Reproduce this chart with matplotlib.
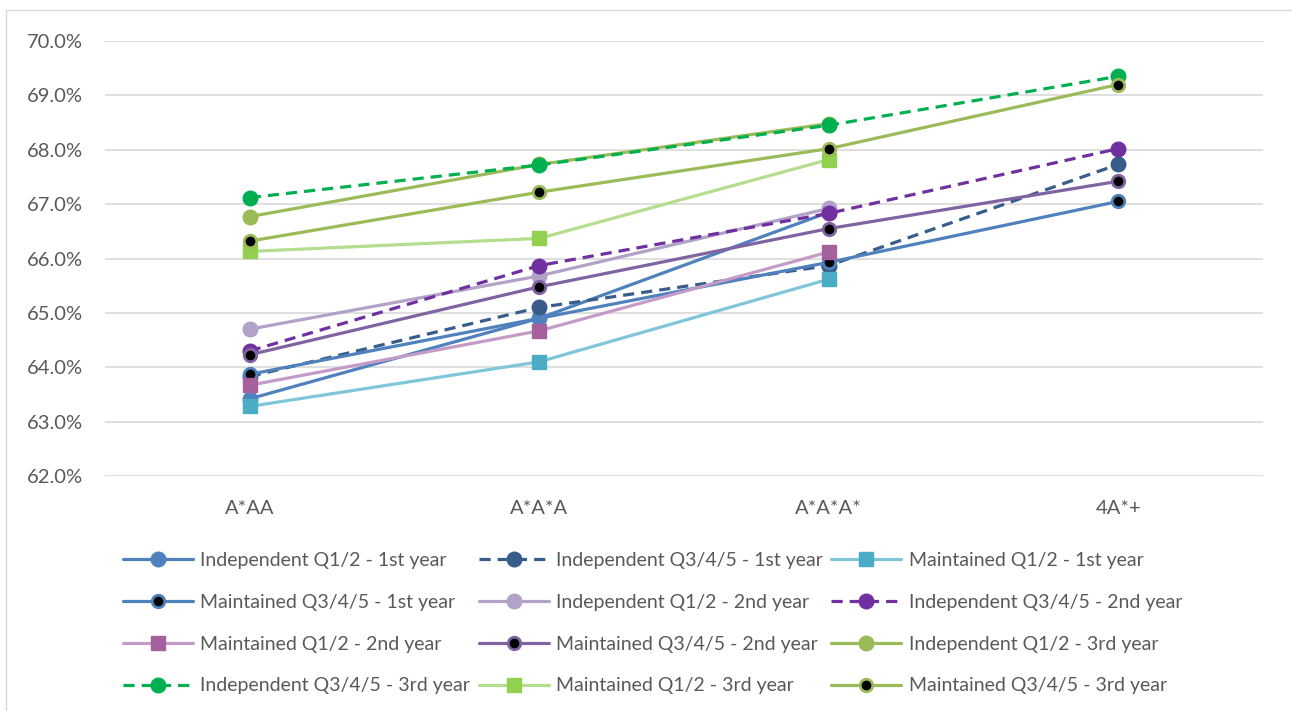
import numpy as np
import matplotlib.pyplot as plt
from matplotlib.lines import Line2D

plt.rcParams['font.family'] = ['Lato', 'DejaVu Sans']

categories = ['A*AA', 'A*A*A', 'A*A*A*', '4A*+']
nan = np.nan

# retention rates (%) by grade band
ind_q12_y1 = [63.42, 64.90, 66.85, nan]
ind_q345_y1 = [63.83, 65.10, 65.87, 67.73]
mai_q12_y1 = [63.28, 64.10, 65.62, nan]
mai_q345_y1 = [63.87, nan, 65.93, 67.05]
ind_q12_y2 = [64.70, 65.68, 66.92, nan]
ind_q345_y2 = [64.30, 65.87, 66.83, 68.02]
mai_q12_y2 = [63.67, 64.67, 66.12, nan]
mai_q345_y2 = [64.23, 65.48, 66.55, 67.42]
ind_q12_y3 = [66.77, 67.73, 68.48, nan]
ind_q345_y3 = [67.12, 67.72, 68.45, 69.35]
mai_q12_y3 = [66.13, 66.37, 67.82, nan]
mai_q345_y3 = [66.32, 67.22, 68.02, 69.20]

labels = ['Independent Q1/2 - 1st year', 'Independent Q3/4/5 - 1st year',
          'Maintained Q1/2 - 1st year', 'Maintained Q3/4/5 - 1st year',
          'Independent Q1/2 - 2nd year', 'Independent Q3/4/5 - 2nd year',
          'Maintained Q1/2 - 2nd year', 'Maintained Q3/4/5 - 2nd year',
          'Independent Q1/2 - 3rd year', 'Independent Q3/4/5 - 3rd year',
          'Maintained Q1/2 - 3rd year', 'Maintained Q3/4/5 - 3rd year']
series = [ind_q12_y1, ind_q345_y1, mai_q12_y1, mai_q345_y1,
          ind_q12_y2, ind_q345_y2, mai_q12_y2, mai_q345_y2,
          ind_q12_y3, ind_q345_y3, mai_q12_y3, mai_q345_y3]

# (line colour, marker, marker face, marker edge, dashed)
styles = [
    ('#4F81BD', 'o', '#4F81BD', '#4F81BD', False),
    ('#385D8A', 'o', '#385D8A', '#385D8A', True),
    ('#7FC6D8', 's', '#4BACC6', '#4BACC6', False),
    ('#4F81BD', 'o', 'black', '#4F81BD', False),
    ('#B3A2C7', 'o', '#B3A2C7', '#B3A2C7', False),
    ('#7030A0', 'o', '#7030A0', '#7030A0', True),
    ('#C39BC6', 's', '#A5619E', '#A5619E', False),
    ('#8064A2', 'o', 'black', '#8064A2', False),
    ('#9BBB59', 'o', '#9BBB59', '#9BBB59', False),
    ('#00B050', 'o', '#00B050', '#00B050', True),
    ('#B5DD8E', 's', '#92D050', '#92D050', False),
    ('#9BBB59', 'o', 'black', '#9BBB59', False),
]

fig = plt.figure(figsize=(12.92, 7.11), dpi=100)
ax = fig.add_axes([105/1292, 1-476/711, 1158/1292, 435/711])

x = np.arange(len(categories))
handles = []
for vals, lab, (lc, mk, mf, me, dashed) in zip(series, labels, styles):
    y = np.array(vals, dtype=float)
    ok = ~np.isnan(y)
    black = mf == 'black'
    ms = 9 if black else 10.5
    mew = 2 if black else 1
    kw = dict(color=lc, lw=2.3, marker=mk, ms=ms, mfc=mf, mec=me, mew=mew,
              solid_capstyle='round')
    if dashed:
        kw.update(ls=(0, (3.5, 2.2)))
    ax.plot(x[ok], y[ok], **kw)
    handles.append(Line2D([], [], **kw))

ax.set_xlim(-0.5, 3.5)
ax.set_ylim(62, 70)
ax.set_yticks(np.arange(62, 70.01, 1))
ax.set_yticklabels([f'{v:.1f}%' for v in np.arange(62, 70.01, 1)])
ax.set_xticks(x)
ax.set_xticklabels(categories)
ax.grid(axis='y', color='#D9D9D9', lw=1.2)
ax.set_axisbelow(True)
for s in ax.spines.values():
    s.set_visible(False)
ax.tick_params(length=0, labelsize=14.5, colors='#595959')
ax.tick_params(axis='y', pad=16)
ax.tick_params(axis='x', pad=17)

# legend is laid out row by row, three across
order = [0, 3, 6, 9, 1, 4, 7, 10, 2, 5, 8, 11]
fig.legend([handles[i] for i in order], [labels[i] for i in order],
           ncol=3, loc='upper left', bbox_to_anchor=(115/1292, 1-544/711),
           frameon=False, fontsize=14, labelcolor='#595959',
           handlelength=3.6, handletextpad=0.37, columnspacing=0.45,
           labelspacing=1.28, borderaxespad=0)

# chart frame
fig.add_artist(Line2D([6/1292, 6/1292], [0, 1-10/711], color='#D9D9D9', lw=1))
fig.add_artist(Line2D([6/1292, 1], [1-10/711, 1-10/711], color='#D9D9D9', lw=1))

fig.savefig('out.png', dpi=100)
